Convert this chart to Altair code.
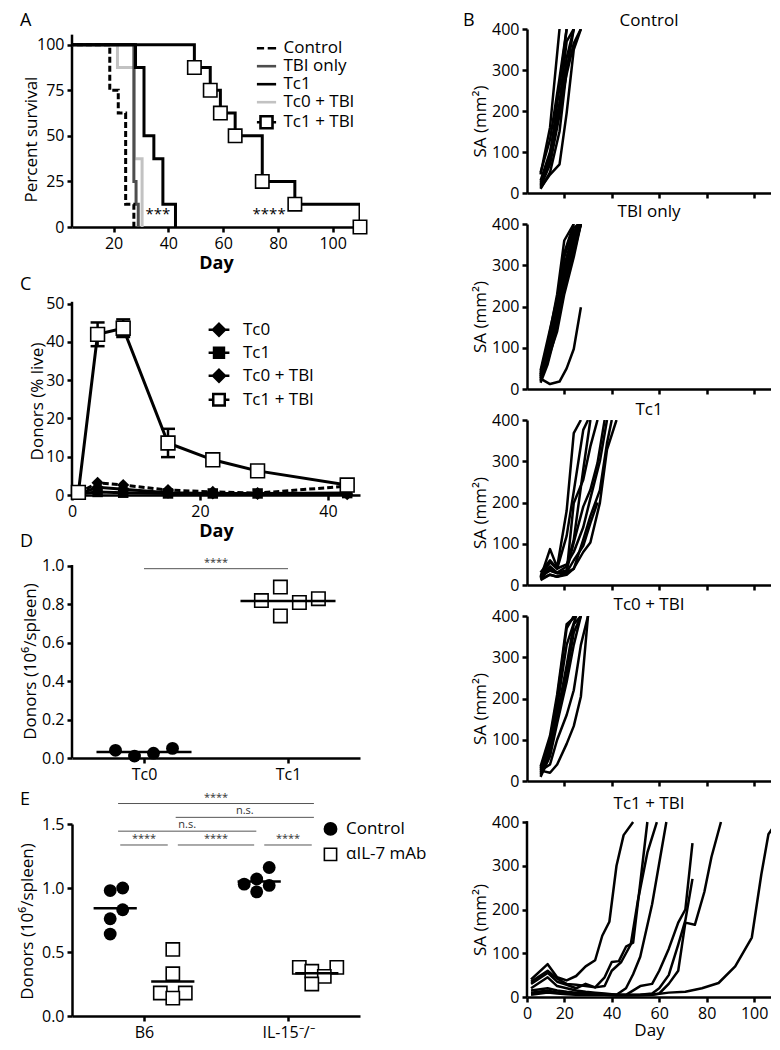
import altair as alt
import numpy as np
import pandas as pd

FONT = "Open Sans"

# ---------------- Panel A : survival ----------------
A_series = ["Control", "TBI only", "Tc1", "Tc0 + TBI", "Tc1 + TBI"]
A_colors = ["#000000", "#4d4d4d", "#000000", "#c2c2c2", "#000000"]
ctrl_days = [0, 18.6, 21.7, 24.4, 27.4]
ctrl_surv = [100, 75, 62.5, 12.5, 0]
tbi_days = [0, 27.4, 28.2, 29.0]
tbi_surv = [100, 25, 12.5, 0]
tc1_days = [0, 28.0, 31.1, 34.7, 38.0, 42.6]
tc1_surv = [100, 87.5, 50, 37.5, 12.5, 0]
tc0tbi_days = [0, 21.4, 27.6, 30.4]
tc0tbi_surv = [100, 87.5, 37.5, 0]
tc1tbi_days = [0, 49.5, 55.3, 59.0, 64.4, 74.3, 86.2, 110.0]
tc1tbi_surv = [100, 87.5, 75, 62.5, 50, 25, 12.5, 0]
A_sig_labels = ["***", "****"]
A_sig_days = [36.2, 76.8]
A_sig_surv = [7, 7]

# ---------------- Panel C : donor kinetics ----------------
C_series = ["Tc0", "Tc1", "Tc0 + TBI", "Tc1 + TBI"]
C_days = [1, 4, 8, 15, 22, 29, 43]
C_tc0 = [0.3, 2.0, 1.5, 0.6, 0.4, 0.3, 0.2]
C_tc1 = [0.3, 0.8, 0.6, 0.4, 0.4, 0.4, 0.5]
C_tc0tbi = [0.5, 3.2, 2.6, 1.3, 0.8, 0.5, 2.3]
C_tc1tbi = [0.7, 42.0, 43.6, 13.6, 9.2, 6.3, 2.6]
C_tc1tbi_sem = [0.2, 3.1, 2.3, 3.7, 0.8, 0.6, 0.4]

# ---------------- Panel D ----------------
D_cats = ["Tc0", "Tc1"]
D_tc0 = [0.04, 0.01, 0.025, 0.05]
D_tc1 = [0.82, 0.74, 0.89, 0.81, 0.83]
D_sig = "****"

# ---------------- Panel E ----------------
E_cats = ["B6", "IL-15\u207b/\u207b"]
E_treat = ["Control", "\u03b1IL-7 mAb"]
E_b6_ctrl = [0.98, 1.00, 0.83, 0.76, 0.64]
E_b6_il7 = [0.52, 0.33, 0.18, 0.18, 0.14]
E_il15_ctrl = [1.16, 1.03, 1.07, 1.02, 0.97]
E_il15_il7 = [0.38, 0.38, 0.35, 0.31, 0.25]
# (group a, group b, level, label); groups: 0 B6/Ctrl, 1 B6/aIL7, 2 IL15/Ctrl, 3 IL15/aIL7
E_comparisons = [(0, 1, 0, "****"), (1, 2, 0, "****"), (2, 3, 0, "****"),
                 (0, 2, 1, "n.s."), (1, 3, 2, "n.s."), (0, 3, 3, "****")]

# ---------------- Panel B : tumour growth (SA, mm2) ----------------
B_titles = ["Control", "TBI only", "Tc1", "Tc0 + TBI", "Tc1 + TBI"]
B_ctrl = [
    ([10, 14, 18], [45, 160, 400]),
    ([10, 14, 18, 21], [20, 90, 260, 400]),
    ([10, 14, 18, 21, 24], [15, 70, 190, 330, 400]),
    ([10, 14, 18, 21, 24], [10, 50, 150, 300, 400]),
    ([10, 14, 18, 21, 24, 27], [25, 80, 200, 290, 365, 400]),
    ([10, 14, 18, 21, 24, 27], [12, 45, 70, 195, 350, 400]),
    ([10, 14, 18, 21], [50, 130, 280, 400]),
    ([10, 14, 18, 21, 24], [30, 100, 220, 370, 400]),
]
B_tbi = [
    ([10, 13, 17, 20, 24], [40, 110, 230, 360, 400]),
    ([10, 13, 17, 20, 24], [30, 95, 210, 330, 400]),
    ([10, 13, 17, 20, 24, 26], [25, 85, 190, 300, 380, 400]),
    ([10, 13, 17, 20, 24, 26], [20, 75, 170, 280, 370, 400]),
    ([10, 13, 17, 20, 24, 27], [35, 100, 180, 270, 360, 400]),
    ([10, 13, 17, 20, 24, 27], [15, 60, 150, 250, 340, 400]),
    ([10, 13, 17, 20, 24, 27], [30, 90, 160, 240, 330, 400]),
    ([10, 13, 17, 20, 24, 26], [45, 120, 220, 320, 390, 400]),
    ([10, 13, 17, 20, 24, 27], [20, 70, 140, 230, 320, 400]),
    ([10, 13, 17, 20, 24, 27], [25, 80, 170, 260, 350, 400]),
    ([10, 13, 17, 20, 24, 27], [35, 105, 200, 290, 375, 400]),
    ([10, 14, 18, 21, 24, 27], [25, 12, 18, 50, 97, 198]),
]
B_tc1 = [
    ([10, 14, 17, 21, 24, 27], [18, 87, 43, 180, 368, 400]),
    ([10, 14, 17, 21, 24, 28, 30], [22, 55, 39, 119, 227, 376, 400]),
    ([10, 14, 17, 21, 24, 28, 31, 34], [15, 40, 30, 31, 199, 255, 336, 400]),
    ([10, 14, 17, 21, 24, 28, 31, 34, 37], [20, 45, 30, 35, 103, 190, 231, 296, 400]),
    ([10, 14, 17, 21, 24, 28, 31, 35, 38, 40], [25, 35, 28, 30, 39, 110, 167, 230, 344, 400]),
    ([10, 14, 17, 21, 24, 28, 31, 35, 38, 42], [12, 25, 20, 25, 40, 80, 103, 199, 328, 400]),
    ([10, 14, 17, 21, 24, 28, 31, 34], [15, 25, 20, 30, 60, 95, 150, 200]),
    ([10, 14, 17, 21, 24, 28, 31], [20, 35, 30, 45, 110, 280, 400]),
    ([10, 14, 17, 21, 24, 28, 31, 35, 38], [30, 60, 40, 50, 80, 140, 210, 300, 400]),
]
B_tc0tbi = [
    ([10, 14, 17, 21, 24], [30, 100, 200, 370, 400]),
    ([10, 14, 17, 21, 25], [25, 90, 180, 330, 400]),
    ([10, 14, 17, 21, 25], [35, 110, 210, 380, 400]),
    ([10, 14, 17, 21, 24, 27], [20, 80, 160, 280, 380, 400]),
    ([10, 14, 17, 21, 24, 27], [15, 70, 150, 260, 360, 400]),
    ([10, 14, 17, 21, 24, 27, 30], [25, 40, 100, 160, 220, 330, 400]),
    ([11, 14, 17, 21, 24, 27, 30], [24, 20, 40, 90, 133, 205, 400]),
    ([10, 14, 17, 21, 24, 27], [10, 60, 140, 240, 330, 400]),
]
B_tc1tbi = [
    ([6, 13, 17, 21, 25, 29, 33, 36, 39, 42, 45, 49],
     [40, 75, 45, 38, 48, 70, 84, 140, 172, 300, 370, 400]),
    ([6, 13, 17, 21, 25, 29, 33, 37, 40, 43, 46, 49, 52, 55],
     [35, 60, 42, 30, 28, 25, 22, 45, 80, 82, 115, 124, 260, 400]),
    ([6, 13, 17, 21, 25, 29, 33, 37, 40, 44, 48, 51, 55, 59],
     [30, 55, 35, 28, 20, 30, 22, 25, 60, 80, 120, 220, 330, 400]),
    ([6, 13, 17, 21, 25, 29, 33, 37, 42, 46, 49, 52, 57, 63],
     [20, 45, 25, 20, 15, 12, 10, 8, 5, 20, 52, 92, 212, 400]),
    ([6, 13, 17, 21, 25, 29, 33, 37, 42, 46, 52, 57, 60, 64, 68, 71, 74],
     [15, 20, 15, 12, 10, 10, 8, 6, 5, 5, 25, 30, 60, 110, 170, 200, 352]),
    ([6, 13, 17, 21, 25, 29, 33, 37, 42, 46, 52, 57, 60, 64, 68, 71, 74],
     [10, 15, 10, 8, 8, 6, 5, 5, 4, 4, 5, 8, 20, 50, 120, 175, 270]),
    ([6, 13, 17, 21, 25, 29, 33, 37, 42, 46, 52, 57, 60, 64, 68, 71, 75, 79, 82, 86],
     [8, 12, 10, 8, 6, 5, 5, 5, 4, 4, 4, 5, 8, 30, 60, 170, 165, 240, 320, 400]),
    ([6, 13, 17, 21, 25, 29, 33, 37, 42, 46, 52, 57, 64, 71, 78, 85, 92, 99, 103, 106, 109.5],
     [5, 10, 8, 6, 5, 5, 5, 5, 5, 5, 5, 5, 10, 12, 20, 32, 70, 136, 280, 372, 400]),
]

# ====================================================================
YT = dict(titleAngle=270, titleAlign="center", titleBaseline="middle", labelOverlap=False)
XA = dict(labelOverlap=False, labelFlush=False)


def txt(t, x, y, size=18, align="left", baseline="middle", color="black",
        opacity=1.0, weight="normal"):
    return alt.Chart(pd.DataFrame({"t": [t]})).mark_text(
        align=align, baseline=baseline, font=FONT, fontSize=size, color=color,
        opacity=opacity, fontWeight=weight
    ).encode(x=alt.value(x), y=alt.value(y), text="t:N")


def legend_layer(field, domain, shapes, fills, strokes, lx, ly, size, loff, rpad, sw):
    leg = alt.Legend(title=None, orient="none", legendX=lx, legendY=ly,
                     labelFont=FONT, labelFontSize=17, labelColor="black",
                     symbolSize=size, symbolStrokeWidth=sw, rowPadding=rpad,
                     labelOffset=loff, padding=0, symbolOpacity=1, labelLimit=300)
    return alt.Chart(pd.DataFrame({field: domain})).transform_filter("false").mark_point(
        filled=True).encode(
        shape=alt.Shape(field + ":N", scale=alt.Scale(domain=domain, range=shapes), legend=leg),
        fill=alt.Fill(field + ":N", scale=alt.Scale(domain=domain, range=fills), legend=leg),
        stroke=alt.Stroke(field + ":N", scale=alt.Scale(domain=domain, range=strokes), legend=leg),
    )


def swarm_offsets(vals, px_per_unit, d):
    order = sorted(range(len(vals)), key=lambda i: vals[i])
    placed, offs = [], [0.0] * len(vals)
    cands = [0.0]
    for m in range(1, 8):
        cands += [m * d, -m * d]
    for i in order:
        yi = vals[i] * px_per_unit
        for c in cands:
            if all((c - px) ** 2 + (yi - py) ** 2 >= d * d - 1e-9 for px, py in placed):
                offs[i] = c
                break
        placed.append((offs[i], yi))
    mu = sum(offs) / len(offs)
    return [o - mu for o in offs]


# ---------------- A ----------------
A_H = 198
ax_A = alt.X("day:Q", scale=alt.Scale(domain=[4.8, 110], nice=False, zero=False),
             axis=alt.Axis(values=[20, 40, 60, 80, 100], title="Day",
                           titleFontWeight="bold", titleFontSize=18, **XA))
ay_A = alt.Y("pct:Q", scale=alt.Scale(domain=[0, 108.6], nice=False),
             axis=alt.Axis(values=[0, 25, 50, 75, 100], domain=False, title="Percent survival",
                           titleX=-41, titleY=110, **YT))
A_layers = [alt.Chart(pd.DataFrame({"day": [4.8], "pct": [0], "pct2": [105.5]}))
            .mark_rule(color="black", strokeWidth=2.5).encode(x=ax_A, y=ay_A, y2="pct2:Q")]
A_draw = [("Tc0 + TBI", tc0tbi_days, tc0tbi_surv), ("TBI only", tbi_days, tbi_surv),
          ("Control", ctrl_days, ctrl_surv), ("Tc1", tc1_days, tc1_surv),
          ("Tc1 + TBI", tc1tbi_days, tc1tbi_surv)]
for name, d, s in A_draw:
    col = A_colors[A_series.index(name)]
    mk = dict(interpolate="step-after", clip=True, strokeWidth=3, color=col)
    if name == "Control":
        mk["strokeDash"] = [6, 3]
    A_layers.append(alt.Chart(pd.DataFrame({"day": d, "pct": s})).mark_line(**mk)
                    .encode(x=ax_A, y=ay_A))
A_layers.append(
    alt.Chart(pd.DataFrame({"day": tc1tbi_days[1:], "pct": tc1tbi_surv[1:]}))
    .mark_point(shape="square", filled=True, fill="white", stroke="black", strokeWidth=1.6,
                size=180, opacity=1).encode(x=ax_A, y=ay_A))
A_layers.append(
    alt.Chart(pd.DataFrame({"day": A_sig_days, "pct": A_sig_surv, "lab": A_sig_labels}))
    .mark_text(font=FONT, fontSize=15, color="black", baseline="middle")
    .encode(x=ax_A, y=ay_A, text="lab:N"))
A_layers.append(legend_layer(
    "survA", A_series,
    ["M-1.2,0H-0.3M0.15,0H1.2", "M-1.2,0H1.2", "M-1.2,0H1.2", "M-1.2,0H1.2",
     "M-1.2,0H-0.75M0.75,0H1.2M-0.75,-0.75H0.75V0.75H-0.75Z"],
    ["transparent"] * 4 + ["white"], A_colors, 185, 9.7, 256, 7.5, 0, 2.6))
A_layers.append(txt("A", -52, -8))
A_layers.append(txt(".", -64, -12, opacity=0))
A_layers.append(txt(".", -64, 100, opacity=0))
chart_A = alt.layer(*A_layers).properties(width=288, height=A_H)

# ---------------- C ----------------
C_H = 202
ax_C = alt.X("day:Q", scale=alt.Scale(domain=[0, 45], nice=False, zero=False),
             axis=alt.Axis(values=[0, 20, 40], title="Day", titleFontWeight="bold",
                           titleFontSize=18, **XA))
ay_C = alt.Y("val:Q", scale=alt.Scale(domain=[0, 52.8], nice=False),
             axis=alt.Axis(values=[0, 10, 20, 30, 40, 50], domain=False,
                           title="Donors (% live)", titleX=-35, titleY=108, **YT))
C_layers = [alt.Chart(pd.DataFrame({"day": [0], "val": [0], "val2": [50.5]}))
            .mark_rule(color="black", strokeWidth=2.5).encode(x=ax_C, y=ay_C, y2="val2:Q")]
C_low = [("Tc0 + TBI", C_tc0tbi, "diamond", 150, [6, 3]),
         ("Tc0", C_tc0, "diamond", 150, None),
         ("Tc1", C_tc1, "square", 110, None)]
for name, vals, shp, sz, dash in C_low:
    df = pd.DataFrame({"day": C_days, "val": vals})
    mk = dict(color="black", strokeWidth=3)
    if dash:
        mk["strokeDash"] = dash
    C_layers.append(alt.Chart(df).mark_line(**mk).encode(x=ax_C, y=ay_C))
    C_layers.append(alt.Chart(df).mark_point(shape=shp, filled=True, color="black", size=sz,
                                             opacity=1).encode(x=ax_C, y=ay_C))
dfc = pd.DataFrame({"day": C_days, "val": C_tc1tbi, "sem": C_tc1tbi_sem})
dfc["lo"] = dfc["val"] - dfc["sem"]
dfc["hi"] = dfc["val"] + dfc["sem"]
C_layers.append(alt.Chart(dfc).transform_calculate(val="datum.lo")
                .mark_rule(color="black", strokeWidth=2.5)
                .encode(x=ax_C, y=ay_C, y2="hi:Q"))
for f in ["lo", "hi"]:
    C_layers.append(alt.Chart(dfc).transform_calculate(val="datum." + f)
                    .mark_tick(orient="horizontal", color="black", size=14,
                               thickness=2.5, opacity=1)
                    .encode(x=ax_C, y=ay_C))
C_layers.append(alt.Chart(dfc).mark_line(color="black", strokeWidth=3).encode(x=ax_C, y=ay_C))
C_layers.append(alt.Chart(dfc).mark_point(shape="square", filled=True, fill="white",
                                          stroke="black", strokeWidth=1.6, size=190, opacity=1)
                .encode(x=ax_C, y=ay_C))
C_layers.append(legend_layer(
    "kinC", C_series,
    ["M-1.3,0H1.3M0,-0.75L0.75,0L0,0.75L-0.75,0Z",
     "M-1.3,0H1.3M-0.62,-0.62H0.62V0.62H-0.62Z",
     "M-1.3,0H1.3M0,-0.75L0.75,0L0,0.75L-0.75,0Z",
     "M-1.3,0H-0.72M0.72,0H1.3M-0.72,-0.72H0.72V0.72H-0.72Z"],
    ["black", "black", "black", "white"], ["black"] * 4, 137.5, 27.3, 256, 14.5, 1, 2.5))
C_layers.append(txt("C", -52, -8))
chart_C = alt.layer(*C_layers).properties(width=288, height=C_H)

# ---------------- D ----------------
D_H = 197
D_YPX = 192.0
rows = []
for ci, (cat, vals) in enumerate(zip(D_cats, [D_tc0, D_tc1])):
    offs = swarm_offsets(vals, D_YPX, 19)
    for v, o in zip(vals, offs):
        rows.append({"cat": cat, "ci": ci + 1, "val": v, "xpos": ci + 1 + o / 144.0})
dfD = pd.DataFrame(rows)
lab_D = "[" + ",".join("'%s'" % c for c in D_cats) + "][round(datum.value)-1]"
ax_D = alt.X("xpos:Q", scale=alt.Scale(domain=[0.5, 2.5], nice=False, zero=False),
             axis=alt.Axis(values=[1, 2], labelExpr=lab_D, title=None, **XA))
ay_D = alt.Y("val:Q", scale=alt.Scale(domain=[0, 1.026], nice=False),
             axis=alt.Axis(values=[0.0, 0.2, 0.4, 0.6, 0.8, 1.0],
                           labelExpr="format(datum.value, '.1f')", domain=False,
                           labelSeparation=0,
                           title="Donors (10\u2076/spleen)", titleX=-42, titleY=100, **YT))
D_layers = [alt.Chart(pd.DataFrame({"xpos": [0.5], "val": [0.0], "val2": [1.005]}))
            .mark_rule(color="black", strokeWidth=2.5).encode(x=ax_D, y=ay_D, y2="val2:Q")]
D_layers.append(alt.Chart(dfD[dfD.cat == D_cats[0]]).mark_point(
    shape="circle", filled=True, color="black", size=165, opacity=1).encode(x=ax_D, y=ay_D))
D_layers.append(alt.Chart(dfD[dfD.cat == D_cats[1]]).mark_point(
    shape="square", filled=True, fill="white", stroke="black", strokeWidth=1.6, size=180,
    opacity=1).encode(x=ax_D, y=ay_D))
D_layers.append(alt.Chart(dfD).transform_aggregate(val="mean(val)", groupby=["ci"])
                .transform_calculate(xpos="datum.ci - 0.33", xpos2="datum.ci + 0.33")
                .mark_rule(color="black", strokeWidth=2.5)
                .encode(x=ax_D, x2="xpos2:Q", y=ay_D))
dfDs = pd.DataFrame({"xpos": [1.0], "xpos2": [2.0], "val": [0.986], "xm": [1.5],
                     "lab": [D_sig]})
D_layers.append(alt.Chart(dfDs).mark_rule(color="#555555", strokeWidth=1)
                .encode(x=ax_D, x2="xpos2:Q", y=ay_D))
D_layers.append(alt.Chart(dfDs).transform_calculate(xpos="datum.xm")
                .mark_text(font=FONT, fontSize=11, color="#333333", baseline="bottom", dy=-1)
                .encode(x=ax_D, y=ay_D, text="lab:N"))
D_layers.append(txt("D", -52, -19))
chart_D = alt.layer(*D_layers).properties(width=288, height=D_H)

# ---------------- E ----------------
E_H = 192
E_YPX = 128.0
E_dodge = [-0.2, 0.2]
E_groups = [(0, 0, E_b6_ctrl), (0, 1, E_b6_il7), (1, 0, E_il15_ctrl), (1, 1, E_il15_il7)]
rows = []
centers = []
for gi, (ci, ti, vals) in enumerate(E_groups):
    c = ci + 1 + E_dodge[ti]
    centers.append(c)
    offs = swarm_offsets(vals, E_YPX, 12.5)
    for v, o in zip(vals, offs):
        rows.append({"g": gi, "treat": E_treat[ti], "center": c, "val": v,
                     "xpos": c + o / 144.0})
dfE = pd.DataFrame(rows)
lab_E = "[" + ",".join("'%s'" % c for c in E_cats) + "][round(datum.value)-1]"
ax_E = alt.X("xpos:Q", scale=alt.Scale(domain=[0.5, 2.5], nice=False, zero=False),
             axis=alt.Axis(values=[1, 2], labelExpr=lab_E, title=None, **XA))
ay_E = alt.Y("val:Q", scale=alt.Scale(domain=[0, 1.5], nice=False),
             axis=alt.Axis(values=[0, 0.5, 1.0, 1.5], format=".1f",
                           title="Donors (10\u2076/spleen)", titleX=-45, titleY=97, **YT))
E_layers = [
    alt.Chart(dfE[dfE.treat == E_treat[0]]).mark_point(
        shape="circle", filled=True, color="black", size=165, opacity=1).encode(x=ax_E, y=ay_E),
    alt.Chart(dfE[dfE.treat == E_treat[1]]).mark_point(
        shape="square", filled=True, fill="white", stroke="black", strokeWidth=1.6, size=175,
        opacity=1).encode(x=ax_E, y=ay_E),
    alt.Chart(dfE).transform_aggregate(val="mean(val)", groupby=["center"])
    .transform_calculate(xpos="datum.center - 0.15", xpos2="datum.center + 0.15")
    .mark_rule(color="black", strokeWidth=2.5)
    .encode(x=ax_E, x2="xpos2:Q", y=ay_E),
]
br = []
for a, b, lev, lab in E_comparisons:
    trim = 0.02 + (0.015 if lev == 0 else 0.0)
    x1, x2 = centers[a] + trim, centers[b] - trim
    br.append({"xpos": x1, "xpos2": x2, "xm": (x1 + x2) / 2, "val": 1.336 + 0.108 * lev,
               "lab": lab})
dfB = pd.DataFrame(br)
E_layers.append(alt.Chart(dfB).mark_rule(color="#555555", strokeWidth=1)
                .encode(x=ax_E, x2="xpos2:Q", y=ay_E))
E_layers.append(alt.Chart(dfB).transform_calculate(xpos="datum.xm")
                .mark_text(font=FONT, fontSize=11, color="#333333", baseline="bottom", dy=-1)
                .encode(x=ax_E, y=ay_E, text="lab:N"))
E_layers.append(legend_layer("treatE", E_treat, ["circle", "square"], ["black", "white"],
                             ["black", "black"], 250, -3.6, 150, 7, 6.5, 1.6))
E_layers.append(txt("E", -52, -24))
E_layers.append(txt(".", 368, 100, align="right", opacity=0))
chart_E = alt.layer(*E_layers).properties(width=288, height=E_H)

left = (alt.vconcat(chart_A, chart_C, chart_D, chart_E, spacing=66, bounds="flush")
        .resolve_scale(shape="independent", fill="independent", stroke="independent"))

# ---------------- B ----------------
B_XMIN = 4.3
B_W = 244
B_XMAX = B_XMIN + B_W / 2.374
B_heights = [164, 165, 165, 165, 185]
B_ymax = [400, 400, 400, 400, 422.9]
B_title_y = [-8, -12, -10, -11, -8]
B_data = [B_ctrl, B_tbi, B_tc1, B_tc0tbi, B_tc1tbi]
B_charts = []
for k in range(5):
    rows = []
    for mi, (d, v) in enumerate(B_data[k]):
        for dd, vv in zip(d, v):
            rows.append({"mouse": mi, "day": dd, "sa": vv})
    df = pd.DataFrame(rows)
    last = k == 4
    h = B_heights[k]
    if last:
        xa = alt.Axis(values=[B_XMIN, 20, 40, 60, 80, 100], titlePadding=1,
                      labelExpr="datum.value < 10 ? '0' : datum.label", title="Day", **XA)
    else:
        xa = alt.Axis(values=[20, 40, 60, 80, 100], labels=False, title=None)
    bx = alt.X("day:Q", scale=alt.Scale(domain=[B_XMIN, B_XMAX], nice=False, zero=False),
               axis=xa)
    by = alt.Y("sa:Q", scale=alt.Scale(domain=[0, B_ymax[k]], nice=False),
               axis=alt.Axis(values=[0, 100, 200, 300, 400], domain=not last,
                             title="SA (mm\u00b2)", titleX=-47,
                             titleY=(h + (10 if last else 0)) / 2 + 10, **YT))
    layers = []
    if last:
        layers.append(alt.Chart(pd.DataFrame({"day": [B_XMIN], "sa": [0], "sa2": [402]}))
                      .mark_rule(color="black", strokeWidth=2.5)
                      .encode(x=bx, y=by, y2="sa2:Q"))
    layers.append(alt.Chart(df).mark_line(color="black", strokeWidth=2.5, strokeJoin="round",
                                          clip=True)
                  .encode(x=bx, y=by, detail="mouse:N"))
    layers.append(txt(B_titles[k], B_W / 2, B_title_y[k], size=17, align="center"))
    if k == 0:
        layers.append(txt("B", -64, -8))
        layers.append(txt(".", -64, -12, opacity=0))
        layers.append(txt(".", -64, 80, opacity=0))
    B_charts.append(alt.layer(*layers).properties(width=B_W, height=h))

right = alt.vconcat(*B_charts, spacing=31, bounds="flush")

chart = (alt.hconcat(left, right, spacing=23)
         .properties(padding={"left": 0, "top": 0, "right": 0, "bottom": 8})
         .configure(font=FONT)
         .configure_view(stroke=None)
         .configure_axis(domainColor="black", domainWidth=2.5, tickColor="black",
                         tickWidth=2.5, tickSize=5, labelFont=FONT, labelFontSize=16,
                         labelColor="black", labelPadding=3, titleFont=FONT,
                         titleFontSize=17, titleFontWeight="normal", titleColor="black",
                         titlePadding=3, grid=False, labelFlush=False, labelOverlap=False))

chart.save("out.html", embed_options={"renderer": "svg", "actions": False})
